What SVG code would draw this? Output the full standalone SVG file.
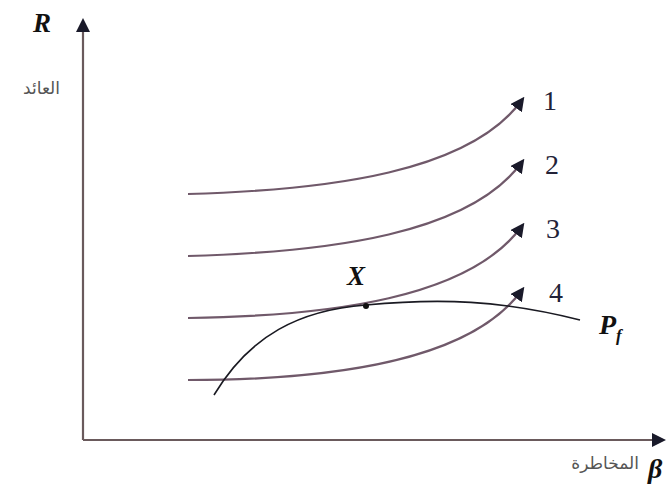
<svg xmlns="http://www.w3.org/2000/svg" width="672" height="486" viewBox="0 0 672 486">
<style>
.ax{stroke:#6a5a5c;stroke-width:2.2;fill:none}
.cv{stroke:#70596a;stroke-width:2.2;fill:none}
.pf{stroke:#1a1a22;stroke-width:1.6;fill:none}
.it{font-family:"Liberation Serif",serif;font-style:italic;font-weight:bold;fill:#111}
.num{font-family:"Liberation Serif",serif;font-size:28px;fill:#222238}
.ar{font-family:"DejaVu Sans","Noto Sans",sans-serif;font-size:17px;fill:#555;text-anchor:end}
</style>
<defs>
<marker id="big" markerWidth="14" markerHeight="14" refX="10" refY="7" orient="auto" markerUnits="userSpaceOnUse" viewBox="0 0 14 14">
<path d="M0,0 L14,7 L0,14 Z" fill="#1a1a2a"/>
</marker>
</defs>
<g id="axes">
<line class="ax" x1="83" y1="440" x2="83" y2="22" marker-end="url(#big)"/>
<line class="ax" x1="83" y1="440" x2="662" y2="440" marker-end="url(#big)"/>
</g>
<g id="connectors">
<path class="cv" d="M188,194 C330,190 470,172 522,100" marker-end="url(#big)"/>
<path class="cv" d="M188,256 C330,252 470,234 522,162" marker-end="url(#big)"/>
<path class="cv" d="M188,318 C330,316 470,298 522,226" marker-end="url(#big)"/>
<path class="cv" d="M188,380 C330,380 470,362 522,290" marker-end="url(#big)"/>
<path class="pf" d="M214,395 C250,335 300,310 366,305 C440,298 500,300 580,320"/>
<circle cx="366" cy="306" r="3" fill="#111"/>
</g>
<g id="labels">
<text class="it" x="33" y="32" font-size="27">R</text>
<text class="ar" x="60" y="94">العائد</text>
<text class="it" x="347" y="285" font-size="27">X</text>
<text class="num" x="543" y="110">1</text>
<text class="num" x="545" y="174">2</text>
<text class="num" x="546" y="238">3</text>
<text class="num" x="549" y="302">4</text>
<text class="it" x="599" y="334" font-size="28">P<tspan font-size="17" dy="7">f</tspan></text>
<text class="ar" x="639" y="469">المخاطرة</text>
<text class="it" x="648" y="478" font-size="28">β</text>
</g>
</svg>
